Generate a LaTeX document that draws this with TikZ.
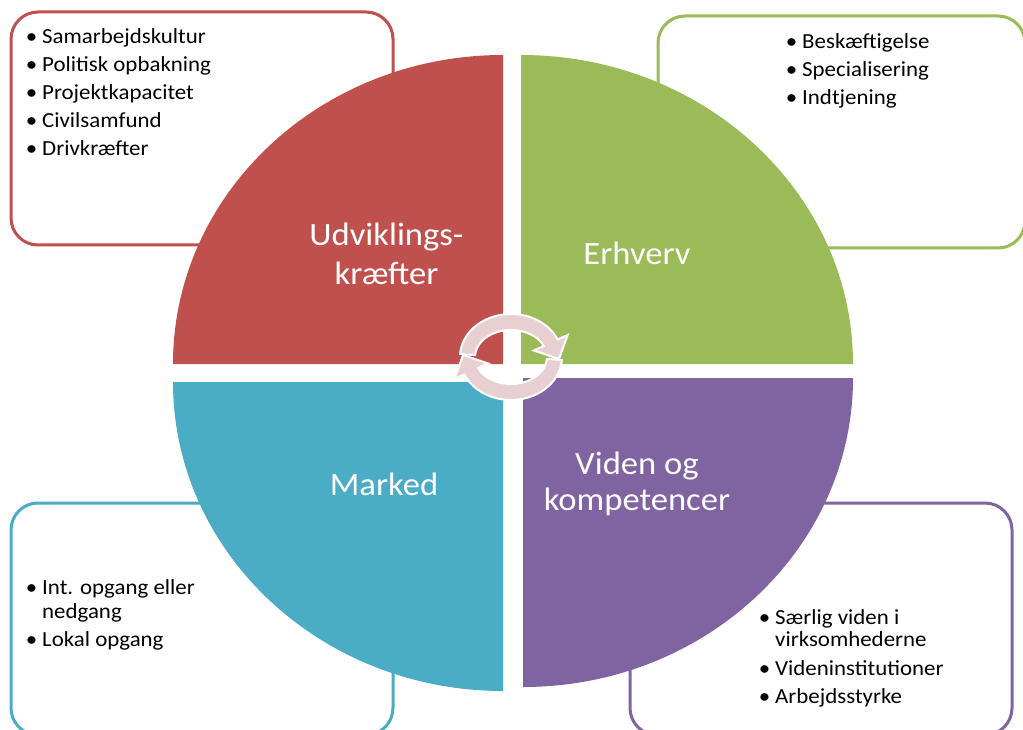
\documentclass[tikz,border=0pt]{standalone}
\usepackage{fontspec}
\setmainfont{Carlito}[FakeStretch=1.065]
\usetikzlibrary{calc}
\definecolor{qred}{HTML}{C0504D}
\definecolor{qgreen}{HTML}{9BBB59}
\definecolor{qblue}{HTML}{4BACC6}
\definecolor{qpurple}{HTML}{8064A2}
\definecolor{arrowpink}{HTML}{E8CFD1}
\newcommand\bul{\llap{•\hspace{5pt}}}
\begin{document}
\begin{tikzpicture}[x=1pt,y=1pt,
  infobox/.style={line width=3pt, rounded corners=27pt, fill=white},
  bl/.style={anchor=base west, inner sep=0pt, font=\fontsize{21.5}{23}\selectfont},
  lbl/.style={anchor=base, inner sep=0pt, text=white, font=\fontsize{32.5}{38}\selectfont},
  cyc/.style={fill=arrowpink, draw=white, line width=2pt, line join=miter}]
\useasboundingbox (0,0) rectangle (1023,-730);
\clip (0,0) rectangle (1023,-730);
\fill[white] (0,0) rectangle (1023,-730);
% boxes
\draw[infobox, draw=qred] (11,-12) rectangle (393,-245);
\draw[infobox, draw=qgreen] (658,-16) rectangle (1025,-248);
\draw[infobox, draw=qblue] (11,-503) rectangle (393,-735);
\draw[infobox, draw=qpurple] (630,-503) rectangle (1012,-735);
% quadrants
\fill[qred] (503,-364) -- (173,-364) arc[start angle=180, end angle=90, x radius=330, y radius=309] -- cycle;
\fill[qgreen] (521,-364) -- (521,-55) arc[start angle=90, end angle=0, x radius=332, y radius=309] -- cycle;
\fill[qblue] (503,-382) -- (503,-691) arc[start angle=270, end angle=180, x radius=330, y radius=309] -- cycle;
\fill[qpurple] (523,-378) -- (853,-378) arc[start angle=0, end angle=-90, x radius=330, y radius=309] -- cycle;
% circular arrows
\coordinate (C) at (511,-357);
\path[cyc] ($(C)+(176:51 and 43)$) arc[start angle=176, end angle=24, x radius=51, y radius=43]
  -- ($(C)+(24:62 and 54)$) -- ($(C)+(-3:48 and 38)$) -- ($(C)+(24:25 and 16)$)
  -- ($(C)+(24:36 and 27)$) arc[start angle=24, end angle=176, x radius=36, y radius=27] -- cycle;
\begin{scope}[rotate around={180:(512,-373)}]
\path[cyc] ($(C)+(176:51 and 43)$) arc[start angle=176, end angle=24, x radius=51, y radius=43]
  -- ($(C)+(24:62 and 54)$) -- ($(C)+(-3:48 and 38)$) -- ($(C)+(24:25 and 16)$)
  -- ($(C)+(24:36 and 27)$) arc[start angle=24, end angle=176, x radius=36, y radius=27] -- cycle;
\end{scope}
% quadrant labels
\node[lbl] (u1) at (386.5,-246) {Udviklings-};
\node[lbl] (u2) at (386.5,-284) {kræfter};
\node[lbl] (e1) at (637,-265) {Erhverv};
\node[lbl] (m1) at (384,-495) {Marked};
\node[lbl] (v1) at (637,-474) {Viden og};
\node[lbl] (v2) at (637,-510) {kompetencer};
% bullets red
\node[bl] (r1) at (42,-44) {\bul Samarbejdskultur};
\node[bl] (r2) at (42,-72) {\bul Politisk opbakning};
\node[bl] (r3) at (42,-100) {\bul Projektkapacitet};
\node[bl] (r4) at (42,-128) {\bul Civilsamfund};
\node[bl] (r5) at (42,-156) {\bul Drivkræfter};
% bullets green
\node[bl] (g1) at (802,-49) {\bul Beskæftigelse};
\node[bl] (g2) at (802,-77) {\bul Specialisering};
\node[bl] (g3) at (802,-105) {\bul Indtjening};
% bullets blue
\node[bl] (b1) at (42,-594) {\bul Int. opgang eller};
\node[bl] (b2) at (42,-618) {nedgang};
\node[bl] (b3) at (42,-646) {\bul Lokal opgang};
% bullets purple
\node[bl] (p1) at (775,-624) {\bul Særlig viden i};
\node[bl] (p2) at (775,-646) {virksomhederne};
\node[bl] (p3) at (775,-675) {\bul Videninstitutioner};
\node[bl] (p4) at (775,-703) {\bul Arbejdsstyrke};
\end{tikzpicture}
\end{document}
